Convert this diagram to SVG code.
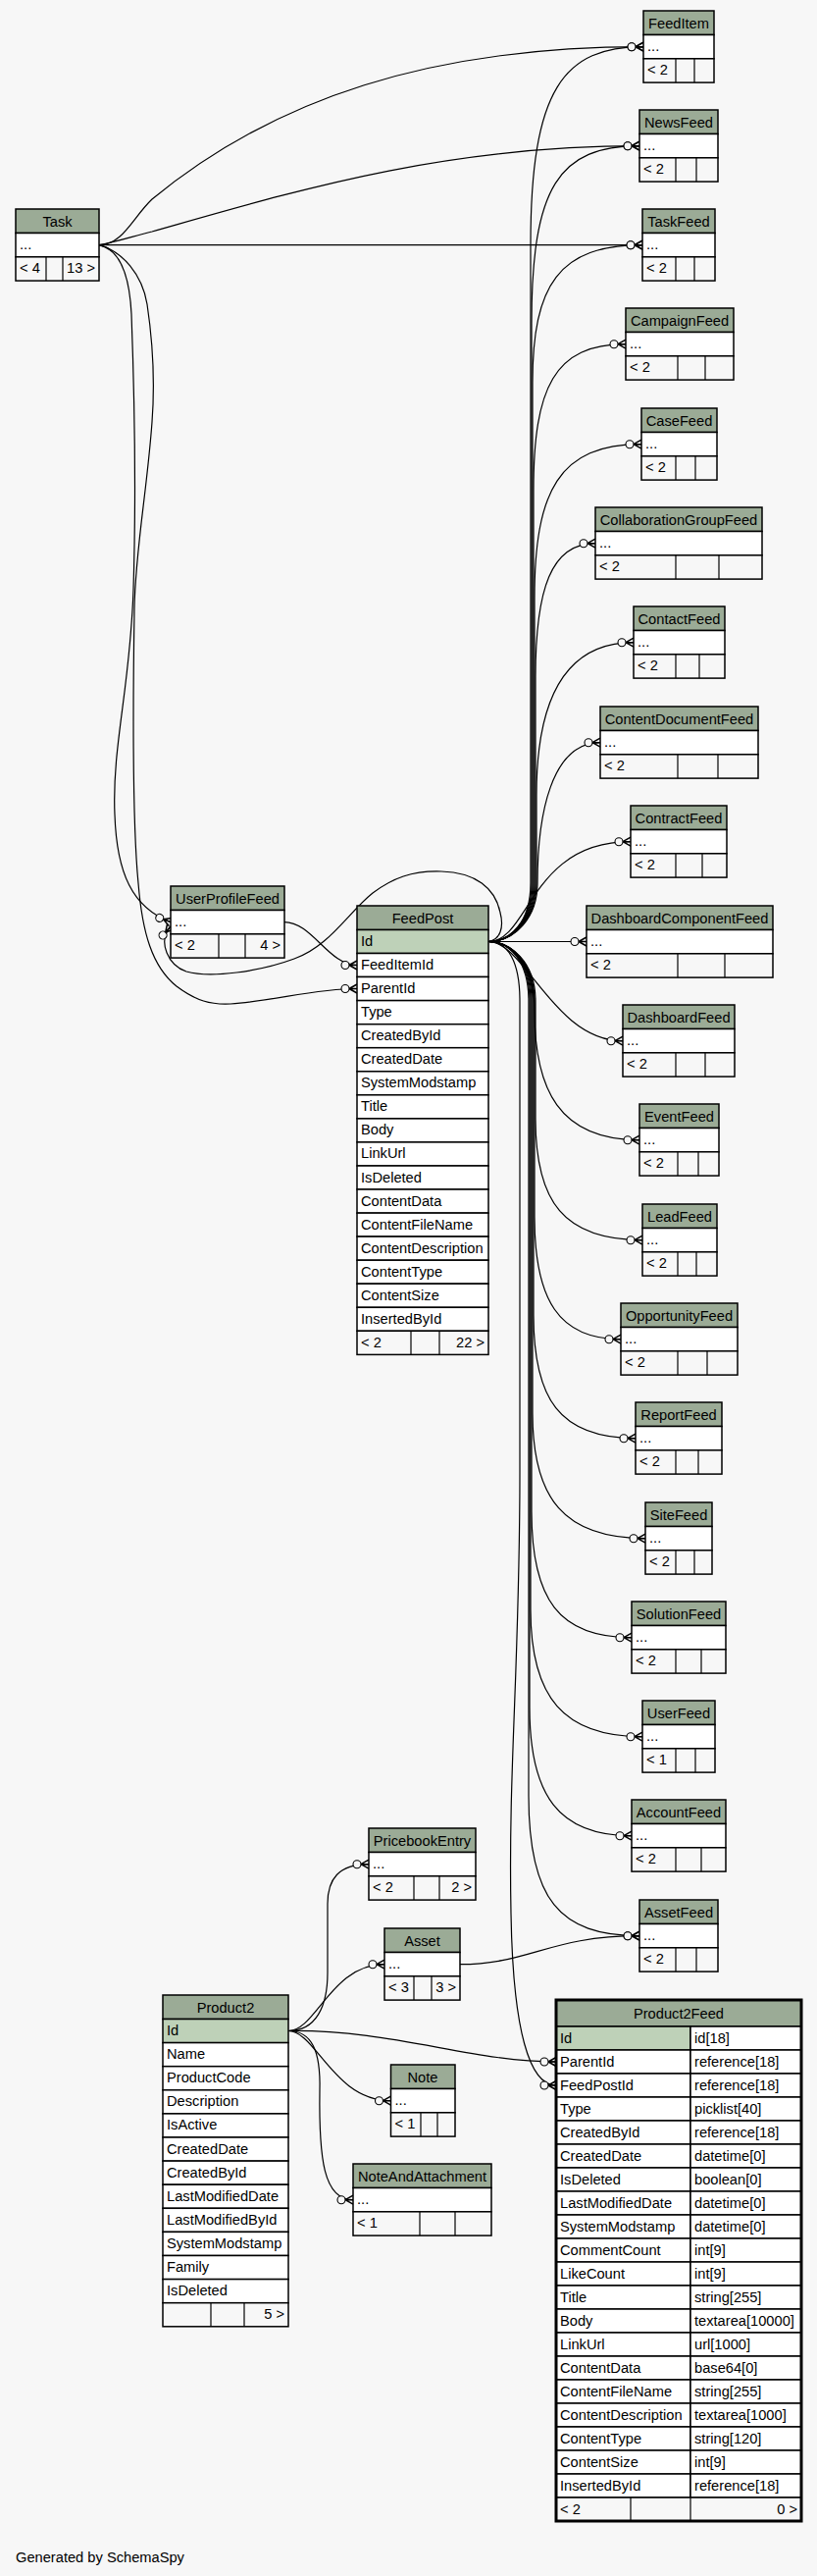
<svg xmlns="http://www.w3.org/2000/svg" width="833" height="2625" viewBox="0 0 833 2625">
<style>
text{font-family:"Liberation Sans",Arial,Helvetica,sans-serif;font-size:14.67px;fill:#000}
.c{text-anchor:middle}
.e{text-anchor:end}
.h{fill:#9bab96;stroke:#000;stroke-width:1.5}
.p{fill:#bed1b8;stroke:#000;stroke-width:1.5}
.w{fill:#fff;stroke:#000;stroke-width:1.5}
.f{fill:#f7f7f7;stroke:#000;stroke-width:1.5}
.d{stroke:#000;stroke-width:1.2}
#edges path{fill:none;stroke:#000;stroke-width:1.2;marker-end:url(#cf)}
</style>
<defs>
<marker id="cf" markerUnits="userSpaceOnUse" markerWidth="20" markerHeight="12" viewBox="-17 -6 18 12" refX="0" refY="0" orient="auto" overflow="visible">
<path d="M-8,0 L0,-4.5 M-8,0 L0,0 M-8,0 L0,4.5" fill="none" stroke="#000" stroke-width="1.5"/>
<circle cx="-12" cy="0" r="4" fill="#f7f7f7" stroke="#000" stroke-width="1.1"/>
</marker>
</defs>
<rect x="0" y="0" width="833" height="2625" fill="#f7f7f7"/>
<g id="edges">
<path d="M101,249.7 C125,249.7 135,222 155,203 C280,100 440,47.7 656,47.7"/>
<path d="M101,249.7 C120,246 135,241 155,236 C300,195 450,148.7 652,148.7"/>
<path d="M101,249.7 L655,249.7"/>
<path d="M101,249.7 C122,254 132,280 134,320 C137,400 139,500 136,600 C133,700 114,760 117,830 C119,890 135,925 174,939.6"/>
<path d="M101,249.7 C125,256 145,280 150,310 C156,350 158,390 155,430 C150,500 138,560 137,620 C135,750 136,850 141,900 C145,950 155,985 180,1005 C200,1020 215,1024 235,1023 C280,1020 320,1007.5 364,1007.5"/>
<path d="M290,939.6 C318,939.6 335,983.5 364,983.5"/>
<path d="M498,959.5 C510,958 514,945 510,930 C505,905 485,889 450,888 C420,887 400,895 380,910 C355,930 335,965 300,977 C265,990 215,997 190,990 C172,984 160,960 174,944"/>
<path d="M498,959.5 C520,959.5 541,940 541,900 L541,250 C541,90 575,47.7 656,47.7"/>
<path d="M498,959.5 C520,959.5 542,940 542,900 L542,330 C542,190 570,148.7 652,148.7"/>
<path d="M498,959.5 C520,959.5 543,940 543,900 L543,390 C543,290 570,249.7 655,249.7"/>
<path d="M498,959.5 C520,959.5 544,940 544,900 L544,500 C544,395 565,350.7 638,350.7"/>
<path d="M498,959.5 C520,959.5 545,940 545,900 L545,610 C545,500 570,452.7 654,452.7"/>
<path d="M498,959.5 C520,959.5 546,940 546,900 L546,690 C546,600 562,553.7 607,553.7"/>
<path d="M498,959.5 C520,959.5 547,940 547,900 L547,810 C547,715 575,654.7 646,654.7"/>
<path d="M498,959.5 C525,959.5 548,935 548,900 C548,830 562,756.7 612,756.7"/>
<path d="M498,959.5 C540,959.5 540,857.7 643,857.7"/>
<path d="M498,959.5 L598,959.5"/>
<path d="M498,959.5 C535,959.5 565,1060.7 635,1060.7"/>
<path d="M498,959.5 C525,959.5 545,985 545,1030 C545,1110 570,1161.7 652,1161.7"/>
<path d="M498,959.5 C520,959.5 546,980 546,1020 L546,1140 C546,1225 575,1263.7 655,1263.7"/>
<path d="M498,959.5 C520,959.5 545,980 545,1020 L545,1240 C545,1325 570,1364.7 633,1364.7"/>
<path d="M498,959.5 C520,959.5 544,980 544,1020 L544,1340 C544,1425 570,1465.7 648,1465.7"/>
<path d="M498,959.5 C520,959.5 543,980 543,1020 L543,1440 C543,1527 575,1567.7 658,1567.7"/>
<path d="M498,959.5 C520,959.5 542,980 542,1020 L542,1540 C542,1630 570,1668.7 644,1668.7"/>
<path d="M498,959.5 C520,959.5 541,980 541,1020 L541,1640 C541,1730 575,1769.7 655,1769.7"/>
<path d="M498,959.5 C520,959.5 540,980 540,1020 L540,1740 C540,1830 570,1870.7 644,1870.7"/>
<path d="M498,959.5 C520,959.5 539,980 539,1020 L539,1830 C539,1935 570,1972.7 652,1972.7"/>
<path d="M498,959.5 C518,959.5 530,980 530,1020 L530,1500 C530,1700 518,1800 521,1950 C523,2070 540,2125 567,2125"/>
<path d="M469,2001.7 C540,2001.7 560,1972.7 652,1972.7"/>
<path d="M294,2069.5 C322,2069.5 334,2045 334,2010 L334,1940 C334,1915 345,1899.7 376,1899.7"/>
<path d="M294,2069.5 C322,2069.5 338,2001.7 392,2001.7"/>
<path d="M294,2069.5 C322,2069.5 340,2140.7 398.5,2140.7"/>
<path d="M294,2069.5 C318,2069.5 327,2090 326,2130 C325,2200 330,2241.7 360,2241.7"/>
<path d="M294,2069.5 C400,2068 480,2101 567,2101"/>
</g>

<g id="Task">
<rect class="h" x="16" y="213" width="85" height="24.5"/><rect class="w" x="16" y="237.5" width="85" height="24.3"/><rect class="f" x="16" y="261.8" width="85" height="24.3"/>
<line class="d" x1="47" y1="261.8" x2="47" y2="286.1"/><line class="d" x1="64" y1="261.8" x2="64" y2="286.1"/>
<text class="c" x="58.5" y="230.5">Task</text><text x="20" y="254">...</text><text x="20" y="278.3">&lt; 4</text><text class="e" x="97" y="278.3">13 &gt;</text>
</g>

<g id="FeedItem">
<rect class="h" x="656" y="11" width="72" height="24.5"/><rect class="w" x="656" y="35.5" width="72" height="24.3"/><rect class="f" x="656" y="59.8" width="72" height="24.3"/>
<line class="d" x1="689" y1="59.8" x2="689" y2="84.1"/><line class="d" x1="708" y1="59.8" x2="708" y2="84.1"/>
<text class="c" x="692" y="28.5">FeedItem</text><text x="660" y="52">...</text><text x="660" y="76.3">&lt; 2</text>
</g>

<g id="NewsFeed">
<rect class="h" x="652" y="112" width="80" height="24.5"/><rect class="w" x="652" y="136.5" width="80" height="24.3"/><rect class="f" x="652" y="160.8" width="80" height="24.3"/>
<line class="d" x1="689" y1="160.8" x2="689" y2="185.1"/><line class="d" x1="710" y1="160.8" x2="710" y2="185.1"/>
<text class="c" x="692" y="129.5">NewsFeed</text><text x="656" y="153">...</text><text x="656" y="177.3">&lt; 2</text>
</g>

<g id="TaskFeed">
<rect class="h" x="655" y="213" width="74" height="24.5"/><rect class="w" x="655" y="237.5" width="74" height="24.3"/><rect class="f" x="655" y="261.8" width="74" height="24.3"/>
<line class="d" x1="689" y1="261.8" x2="689" y2="286.1"/><line class="d" x1="708" y1="261.8" x2="708" y2="286.1"/>
<text class="c" x="692" y="230.5">TaskFeed</text><text x="659" y="254">...</text><text x="659" y="278.3">&lt; 2</text>
</g>

<g id="CampaignFeed">
<rect class="h" x="638" y="314" width="110" height="24.5"/><rect class="w" x="638" y="338.5" width="110" height="24.3"/><rect class="f" x="638" y="362.8" width="110" height="24.3"/>
<line class="d" x1="691" y1="362.8" x2="691" y2="387.1"/><line class="d" x1="719" y1="362.8" x2="719" y2="387.1"/>
<text class="c" x="693" y="331.5">CampaignFeed</text><text x="642" y="355">...</text><text x="642" y="379.3">&lt; 2</text>
</g>

<g id="CaseFeed">
<rect class="h" x="654" y="416" width="77" height="24.5"/><rect class="w" x="654" y="440.5" width="77" height="24.3"/><rect class="f" x="654" y="464.8" width="77" height="24.3"/>
<line class="d" x1="689" y1="464.8" x2="689" y2="489.1"/><line class="d" x1="709" y1="464.8" x2="709" y2="489.1"/>
<text class="c" x="692.5" y="433.5">CaseFeed</text><text x="658" y="457">...</text><text x="658" y="481.3">&lt; 2</text>
</g>

<g id="CollaborationGroupFeed">
<rect class="h" x="607" y="517" width="170" height="24.5"/><rect class="w" x="607" y="541.5" width="170" height="24.3"/><rect class="f" x="607" y="565.8" width="170" height="24.3"/>
<line class="d" x1="689" y1="565.8" x2="689" y2="590.1"/><line class="d" x1="733" y1="565.8" x2="733" y2="590.1"/>
<text class="c" x="692" y="534.5">CollaborationGroupFeed</text><text x="611" y="558">...</text><text x="611" y="582.3">&lt; 2</text>
</g>

<g id="ContactFeed">
<rect class="h" x="646" y="618" width="93" height="24.5"/><rect class="w" x="646" y="642.5" width="93" height="24.3"/><rect class="f" x="646" y="666.8" width="93" height="24.3"/>
<line class="d" x1="689" y1="666.8" x2="689" y2="691.1"/><line class="d" x1="713" y1="666.8" x2="713" y2="691.1"/>
<text class="c" x="692.5" y="635.5">ContactFeed</text><text x="650" y="659">...</text><text x="650" y="683.3">&lt; 2</text>
</g>

<g id="ContentDocumentFeed">
<rect class="h" x="612" y="720" width="161" height="24.5"/><rect class="w" x="612" y="744.5" width="161" height="24.3"/><rect class="f" x="612" y="768.8" width="161" height="24.3"/>
<line class="d" x1="691" y1="768.8" x2="691" y2="793.1"/><line class="d" x1="732" y1="768.8" x2="732" y2="793.1"/>
<text class="c" x="692.5" y="737.5">ContentDocumentFeed</text><text x="616" y="761">...</text><text x="616" y="785.3">&lt; 2</text>
</g>

<g id="ContractFeed">
<rect class="h" x="643" y="821" width="98" height="24.5"/><rect class="w" x="643" y="845.5" width="98" height="24.3"/><rect class="f" x="643" y="869.8" width="98" height="24.3"/>
<line class="d" x1="689" y1="869.8" x2="689" y2="894.1"/><line class="d" x1="716" y1="869.8" x2="716" y2="894.1"/>
<text class="c" x="692" y="838.5">ContractFeed</text><text x="647" y="862">...</text><text x="647" y="886.3">&lt; 2</text>
</g>

<g id="DashboardComponentFeed">
<rect class="h" x="598" y="923" width="190" height="24.5"/><rect class="w" x="598" y="947.5" width="190" height="24.3"/><rect class="f" x="598" y="971.8" width="190" height="24.3"/>
<line class="d" x1="691" y1="971.8" x2="691" y2="996.1"/><line class="d" x1="739" y1="971.8" x2="739" y2="996.1"/>
<text class="c" x="693" y="940.5">DashboardComponentFeed</text><text x="602" y="964">...</text><text x="602" y="988.3">&lt; 2</text>
</g>

<g id="DashboardFeed">
<rect class="h" x="635" y="1024" width="114" height="24.5"/><rect class="w" x="635" y="1048.5" width="114" height="24.3"/><rect class="f" x="635" y="1072.8" width="114" height="24.3"/>
<line class="d" x1="689" y1="1072.8" x2="689" y2="1097.1"/><line class="d" x1="719" y1="1072.8" x2="719" y2="1097.1"/>
<text class="c" x="692" y="1041.5">DashboardFeed</text><text x="639" y="1065">...</text><text x="639" y="1089.3">&lt; 2</text>
</g>

<g id="EventFeed">
<rect class="h" x="652" y="1125" width="81" height="24.5"/><rect class="w" x="652" y="1149.5" width="81" height="24.3"/><rect class="f" x="652" y="1173.8" width="81" height="24.3"/>
<line class="d" x1="691" y1="1173.8" x2="691" y2="1198.1"/><line class="d" x1="712" y1="1173.8" x2="712" y2="1198.1"/>
<text class="c" x="692.5" y="1142.5">EventFeed</text><text x="656" y="1166">...</text><text x="656" y="1190.3">&lt; 2</text>
</g>

<g id="LeadFeed">
<rect class="h" x="655" y="1227" width="76" height="24.5"/><rect class="w" x="655" y="1251.5" width="76" height="24.3"/><rect class="f" x="655" y="1275.8" width="76" height="24.3"/>
<line class="d" x1="691" y1="1275.8" x2="691" y2="1300.1"/><line class="d" x1="710" y1="1275.8" x2="710" y2="1300.1"/>
<text class="c" x="693" y="1244.5">LeadFeed</text><text x="659" y="1268">...</text><text x="659" y="1292.3">&lt; 2</text>
</g>

<g id="OpportunityFeed">
<rect class="h" x="633" y="1328" width="119" height="24.5"/><rect class="w" x="633" y="1352.5" width="119" height="24.3"/><rect class="f" x="633" y="1376.8" width="119" height="24.3"/>
<line class="d" x1="691" y1="1376.8" x2="691" y2="1401.1"/><line class="d" x1="721" y1="1376.8" x2="721" y2="1401.1"/>
<text class="c" x="692.5" y="1345.5">OpportunityFeed</text><text x="637" y="1369">...</text><text x="637" y="1393.3">&lt; 2</text>
</g>

<g id="ReportFeed">
<rect class="h" x="648" y="1429" width="88" height="24.5"/><rect class="w" x="648" y="1453.5" width="88" height="24.3"/><rect class="f" x="648" y="1477.8" width="88" height="24.3"/>
<line class="d" x1="689" y1="1477.8" x2="689" y2="1502.1"/><line class="d" x1="712" y1="1477.8" x2="712" y2="1502.1"/>
<text class="c" x="692" y="1446.5">ReportFeed</text><text x="652" y="1470">...</text><text x="652" y="1494.3">&lt; 2</text>
</g>

<g id="SiteFeed">
<rect class="h" x="658" y="1531" width="68" height="24.5"/><rect class="w" x="658" y="1555.5" width="68" height="24.3"/><rect class="f" x="658" y="1579.8" width="68" height="24.3"/>
<line class="d" x1="689" y1="1579.8" x2="689" y2="1604.1"/><line class="d" x1="708" y1="1579.8" x2="708" y2="1604.1"/>
<text class="c" x="692" y="1548.5">SiteFeed</text><text x="662" y="1572">...</text><text x="662" y="1596.3">&lt; 2</text>
</g>

<g id="SolutionFeed">
<rect class="h" x="644" y="1632" width="96" height="24.5"/><rect class="w" x="644" y="1656.5" width="96" height="24.3"/><rect class="f" x="644" y="1680.8" width="96" height="24.3"/>
<line class="d" x1="689" y1="1680.8" x2="689" y2="1705.1"/><line class="d" x1="715" y1="1680.8" x2="715" y2="1705.1"/>
<text class="c" x="692" y="1649.5">SolutionFeed</text><text x="648" y="1673">...</text><text x="648" y="1697.3">&lt; 2</text>
</g>

<g id="UserFeed">
<rect class="h" x="655" y="1733" width="74" height="24.5"/><rect class="w" x="655" y="1757.5" width="74" height="24.3"/><rect class="f" x="655" y="1781.8" width="74" height="24.3"/>
<line class="d" x1="689" y1="1781.8" x2="689" y2="1806.1"/><line class="d" x1="709" y1="1781.8" x2="709" y2="1806.1"/>
<text class="c" x="692" y="1750.5">UserFeed</text><text x="659" y="1774">...</text><text x="659" y="1798.3">&lt; 1</text>
</g>

<g id="AccountFeed">
<rect class="h" x="644" y="1834" width="96" height="24.5"/><rect class="w" x="644" y="1858.5" width="96" height="24.3"/><rect class="f" x="644" y="1882.8" width="96" height="24.3"/>
<line class="d" x1="689" y1="1882.8" x2="689" y2="1907.1"/><line class="d" x1="715" y1="1882.8" x2="715" y2="1907.1"/>
<text class="c" x="692" y="1851.5">AccountFeed</text><text x="648" y="1875">...</text><text x="648" y="1899.3">&lt; 2</text>
</g>

<g id="AssetFeed">
<rect class="h" x="652" y="1936" width="80" height="24.5"/><rect class="w" x="652" y="1960.5" width="80" height="24.3"/><rect class="f" x="652" y="1984.8" width="80" height="24.3"/>
<line class="d" x1="689" y1="1984.8" x2="689" y2="2009.1"/><line class="d" x1="710" y1="1984.8" x2="710" y2="2009.1"/>
<text class="c" x="692" y="1953.5">AssetFeed</text><text x="656" y="1977">...</text><text x="656" y="2001.3">&lt; 2</text>
</g>

<g id="UserProfileFeed">
<rect class="h" x="174" y="903" width="116" height="24.5"/><rect class="w" x="174" y="927.5" width="116" height="24.3"/><rect class="f" x="174" y="951.8" width="116" height="24.3"/>
<line class="d" x1="223" y1="951.8" x2="223" y2="976.1"/><line class="d" x1="250" y1="951.8" x2="250" y2="976.1"/>
<text class="c" x="232" y="920.5">UserProfileFeed</text><text x="178" y="944">...</text><text x="178" y="968.3">&lt; 2</text><text class="e" x="286" y="968.3">4 &gt;</text>
</g>

<g id="FeedPost">
<rect class="h" x="364" y="923" width="134" height="24.5"/>
<rect class="p" x="364" y="947.5" width="134" height="24"/>
<rect class="w" x="364" y="971.5" width="134" height="24"/>
<rect class="w" x="364" y="995.5" width="134" height="24.1"/>
<rect class="w" x="364" y="1019.6" width="134" height="24.1"/>
<rect class="w" x="364" y="1043.7" width="134" height="24"/>
<rect class="w" x="364" y="1067.7" width="134" height="24.1"/>
<rect class="w" x="364" y="1091.8" width="134" height="24"/>
<rect class="w" x="364" y="1115.8" width="134" height="24.1"/>
<rect class="w" x="364" y="1139.9" width="134" height="24"/>
<rect class="w" x="364" y="1163.9" width="134" height="24.1"/>
<rect class="w" x="364" y="1188" width="134" height="24"/>
<rect class="w" x="364" y="1212" width="134" height="24.1"/>
<rect class="w" x="364" y="1236.1" width="134" height="24"/>
<rect class="w" x="364" y="1260.1" width="134" height="24.1"/>
<rect class="w" x="364" y="1284.2" width="134" height="24"/>
<rect class="w" x="364" y="1308.2" width="134" height="24.1"/>
<rect class="w" x="364" y="1332.3" width="134" height="24"/>
<rect class="f" x="364" y="1356.3" width="134" height="24.1"/>
<line class="d" x1="419" y1="1356.3" x2="419" y2="1380.4"/><line class="d" x1="448" y1="1356.3" x2="448" y2="1380.4"/>
<text class="c" x="431" y="940.5">FeedPost</text>
<text x="368" y="964">Id</text>
<text x="368" y="988">FeedItemId</text>
<text x="368" y="1012">ParentId</text>
<text x="368" y="1036.1">Type</text>
<text x="368" y="1060.2">CreatedById</text>
<text x="368" y="1084.2">CreatedDate</text>
<text x="368" y="1108.3">SystemModstamp</text>
<text x="368" y="1132.3">Title</text>
<text x="368" y="1156.4">Body</text>
<text x="368" y="1180.4">LinkUrl</text>
<text x="368" y="1204.5">IsDeleted</text>
<text x="368" y="1228.5">ContentData</text>
<text x="368" y="1252.6">ContentFileName</text>
<text x="368" y="1276.6">ContentDescription</text>
<text x="368" y="1300.7">ContentType</text>
<text x="368" y="1324.7">ContentSize</text>
<text x="368" y="1348.8">InsertedById</text>
<text x="368" y="1372.8">&lt; 2</text><text class="e" x="494" y="1372.8">22 &gt;</text>
</g>

<g id="PricebookEntry">
<rect class="h" x="376" y="1863" width="109" height="24.5"/><rect class="w" x="376" y="1887.5" width="109" height="24.3"/><rect class="f" x="376" y="1911.8" width="109" height="24.3"/>
<line class="d" x1="422" y1="1911.8" x2="422" y2="1936.1"/><line class="d" x1="448" y1="1911.8" x2="448" y2="1936.1"/>
<text class="c" x="430.5" y="1880.5">PricebookEntry</text><text x="380" y="1904">...</text><text x="380" y="1928.3">&lt; 2</text><text class="e" x="481" y="1928.3">2 &gt;</text>
</g>

<g id="Asset">
<rect class="h" x="392" y="1965" width="77" height="24.5"/><rect class="w" x="392" y="1989.5" width="77" height="24.3"/><rect class="f" x="392" y="2013.8" width="77" height="24.3"/>
<line class="d" x1="422" y1="2013.8" x2="422" y2="2038.1"/><line class="d" x1="440" y1="2013.8" x2="440" y2="2038.1"/>
<text class="c" x="430.5" y="1982.5">Asset</text><text x="396" y="2006">...</text><text x="396" y="2030.3">&lt; 3</text><text class="e" x="465" y="2030.3">3 &gt;</text>
</g>

<g id="Note">
<rect class="h" x="398.5" y="2104" width="65.5" height="24.5"/><rect class="w" x="398.5" y="2128.5" width="65.5" height="24.3"/><rect class="f" x="398.5" y="2152.8" width="65.5" height="24.3"/>
<line class="d" x1="429" y1="2152.8" x2="429" y2="2177.1"/><line class="d" x1="446" y1="2152.8" x2="446" y2="2177.1"/>
<text class="c" x="431" y="2121.5">Note</text><text x="402.5" y="2145">...</text><text x="402.5" y="2169.3">&lt; 1</text>
</g>

<g id="NoteAndAttachment">
<rect class="h" x="360" y="2205" width="141" height="24.5"/><rect class="w" x="360" y="2229.5" width="141" height="24.3"/><rect class="f" x="360" y="2253.8" width="141" height="24.3"/>
<line class="d" x1="428" y1="2253.8" x2="428" y2="2278.1"/><line class="d" x1="464" y1="2253.8" x2="464" y2="2278.1"/>
<text class="c" x="430.5" y="2222.5">NoteAndAttachment</text><text x="364" y="2246">...</text><text x="364" y="2270.3">&lt; 1</text>
</g>

<g id="Product2">
<rect class="h" x="166" y="2033" width="128" height="24.5"/>
<rect class="p" x="166" y="2057.5" width="128" height="24.1"/>
<rect class="w" x="166" y="2081.6" width="128" height="24.1"/>
<rect class="w" x="166" y="2105.7" width="128" height="24.1"/>
<rect class="w" x="166" y="2129.8" width="128" height="24.1"/>
<rect class="w" x="166" y="2153.9" width="128" height="24.1"/>
<rect class="w" x="166" y="2178" width="128" height="24.1"/>
<rect class="w" x="166" y="2202.1" width="128" height="24.1"/>
<rect class="w" x="166" y="2226.2" width="128" height="24.1"/>
<rect class="w" x="166" y="2250.3" width="128" height="24.1"/>
<rect class="w" x="166" y="2274.4" width="128" height="24.1"/>
<rect class="w" x="166" y="2298.5" width="128" height="24.1"/>
<rect class="w" x="166" y="2322.6" width="128" height="24.1"/>
<rect class="f" x="166" y="2346.7" width="128" height="24.1"/>
<line class="d" x1="215" y1="2346.7" x2="215" y2="2370.8"/><line class="d" x1="249" y1="2346.7" x2="249" y2="2370.8"/>
<text class="c" x="230" y="2050.5">Product2</text>
<text x="170" y="2074">Id</text>
<text x="170" y="2098.1">Name</text>
<text x="170" y="2122.2">ProductCode</text>
<text x="170" y="2146.3">Description</text>
<text x="170" y="2170.4">IsActive</text>
<text x="170" y="2194.5">CreatedDate</text>
<text x="170" y="2218.6">CreatedById</text>
<text x="170" y="2242.7">LastModifiedDate</text>
<text x="170" y="2266.8">LastModifiedById</text>
<text x="170" y="2290.9">SystemModstamp</text>
<text x="170" y="2315">Family</text>
<text x="170" y="2339.1">IsDeleted</text>
<text class="e" x="290" y="2363.2">5 &gt;</text>
</g>

<g id="Product2Feed">
<rect class="h" x="567" y="2038" width="250" height="27"/>
<rect class="p" x="567" y="2065" width="137" height="24"/><rect class="w" x="704" y="2065" width="113" height="24"/>
<rect class="w" x="567" y="2089" width="137" height="24"/><rect class="w" x="704" y="2089" width="113" height="24"/>
<rect class="w" x="567" y="2113" width="137" height="24"/><rect class="w" x="704" y="2113" width="113" height="24"/>
<rect class="w" x="567" y="2137" width="137" height="24"/><rect class="w" x="704" y="2137" width="113" height="24"/>
<rect class="w" x="567" y="2161" width="137" height="24"/><rect class="w" x="704" y="2161" width="113" height="24"/>
<rect class="w" x="567" y="2185" width="137" height="24"/><rect class="w" x="704" y="2185" width="113" height="24"/>
<rect class="w" x="567" y="2209" width="137" height="24"/><rect class="w" x="704" y="2209" width="113" height="24"/>
<rect class="w" x="567" y="2233" width="137" height="24"/><rect class="w" x="704" y="2233" width="113" height="24"/>
<rect class="w" x="567" y="2257" width="137" height="24"/><rect class="w" x="704" y="2257" width="113" height="24"/>
<rect class="w" x="567" y="2281" width="137" height="24"/><rect class="w" x="704" y="2281" width="113" height="24"/>
<rect class="w" x="567" y="2305" width="137" height="24"/><rect class="w" x="704" y="2305" width="113" height="24"/>
<rect class="w" x="567" y="2329" width="137" height="24"/><rect class="w" x="704" y="2329" width="113" height="24"/>
<rect class="w" x="567" y="2353" width="137" height="24"/><rect class="w" x="704" y="2353" width="113" height="24"/>
<rect class="w" x="567" y="2377" width="137" height="24"/><rect class="w" x="704" y="2377" width="113" height="24"/>
<rect class="w" x="567" y="2401" width="137" height="24"/><rect class="w" x="704" y="2401" width="113" height="24"/>
<rect class="w" x="567" y="2425" width="137" height="24"/><rect class="w" x="704" y="2425" width="113" height="24"/>
<rect class="w" x="567" y="2449" width="137" height="24"/><rect class="w" x="704" y="2449" width="113" height="24"/>
<rect class="w" x="567" y="2473" width="137" height="24"/><rect class="w" x="704" y="2473" width="113" height="24"/>
<rect class="w" x="567" y="2497" width="137" height="24"/><rect class="w" x="704" y="2497" width="113" height="24"/>
<rect class="w" x="567" y="2521" width="137" height="24"/><rect class="w" x="704" y="2521" width="113" height="24"/>
<rect class="f" x="567" y="2545" width="250" height="24"/>
<line class="d" x1="643" y1="2545" x2="643" y2="2569"/><line class="d" x1="704" y1="2545" x2="704" y2="2569"/>
<rect x="567" y="2038" width="250" height="531" fill="none" stroke="#000" stroke-width="3"/>
<text class="c" x="692" y="2057">Product2Feed</text>
<text x="571" y="2081.5">Id</text><text x="708" y="2081.5">id[18]</text>
<text x="571" y="2105.5">ParentId</text><text x="708" y="2105.5">reference[18]</text>
<text x="571" y="2129.5">FeedPostId</text><text x="708" y="2129.5">reference[18]</text>
<text x="571" y="2153.5">Type</text><text x="708" y="2153.5">picklist[40]</text>
<text x="571" y="2177.5">CreatedById</text><text x="708" y="2177.5">reference[18]</text>
<text x="571" y="2201.5">CreatedDate</text><text x="708" y="2201.5">datetime[0]</text>
<text x="571" y="2225.5">IsDeleted</text><text x="708" y="2225.5">boolean[0]</text>
<text x="571" y="2249.5">LastModifiedDate</text><text x="708" y="2249.5">datetime[0]</text>
<text x="571" y="2273.5">SystemModstamp</text><text x="708" y="2273.5">datetime[0]</text>
<text x="571" y="2297.5">CommentCount</text><text x="708" y="2297.5">int[9]</text>
<text x="571" y="2321.5">LikeCount</text><text x="708" y="2321.5">int[9]</text>
<text x="571" y="2345.5">Title</text><text x="708" y="2345.5">string[255]</text>
<text x="571" y="2369.5">Body</text><text x="708" y="2369.5">textarea[10000]</text>
<text x="571" y="2393.5">LinkUrl</text><text x="708" y="2393.5">url[1000]</text>
<text x="571" y="2417.5">ContentData</text><text x="708" y="2417.5">base64[0]</text>
<text x="571" y="2441.5">ContentFileName</text><text x="708" y="2441.5">string[255]</text>
<text x="571" y="2465.5">ContentDescription</text><text x="708" y="2465.5">textarea[1000]</text>
<text x="571" y="2489.5">ContentType</text><text x="708" y="2489.5">string[120]</text>
<text x="571" y="2513.5">ContentSize</text><text x="708" y="2513.5">int[9]</text>
<text x="571" y="2537.5">InsertedById</text><text x="708" y="2537.5">reference[18]</text>
<text x="571" y="2561.5">&lt; 2</text><text class="e" x="813" y="2561.5">0 &gt;</text>
</g>

<text x="16" y="2610.5">Generated by SchemaSpy</text>
</svg>
